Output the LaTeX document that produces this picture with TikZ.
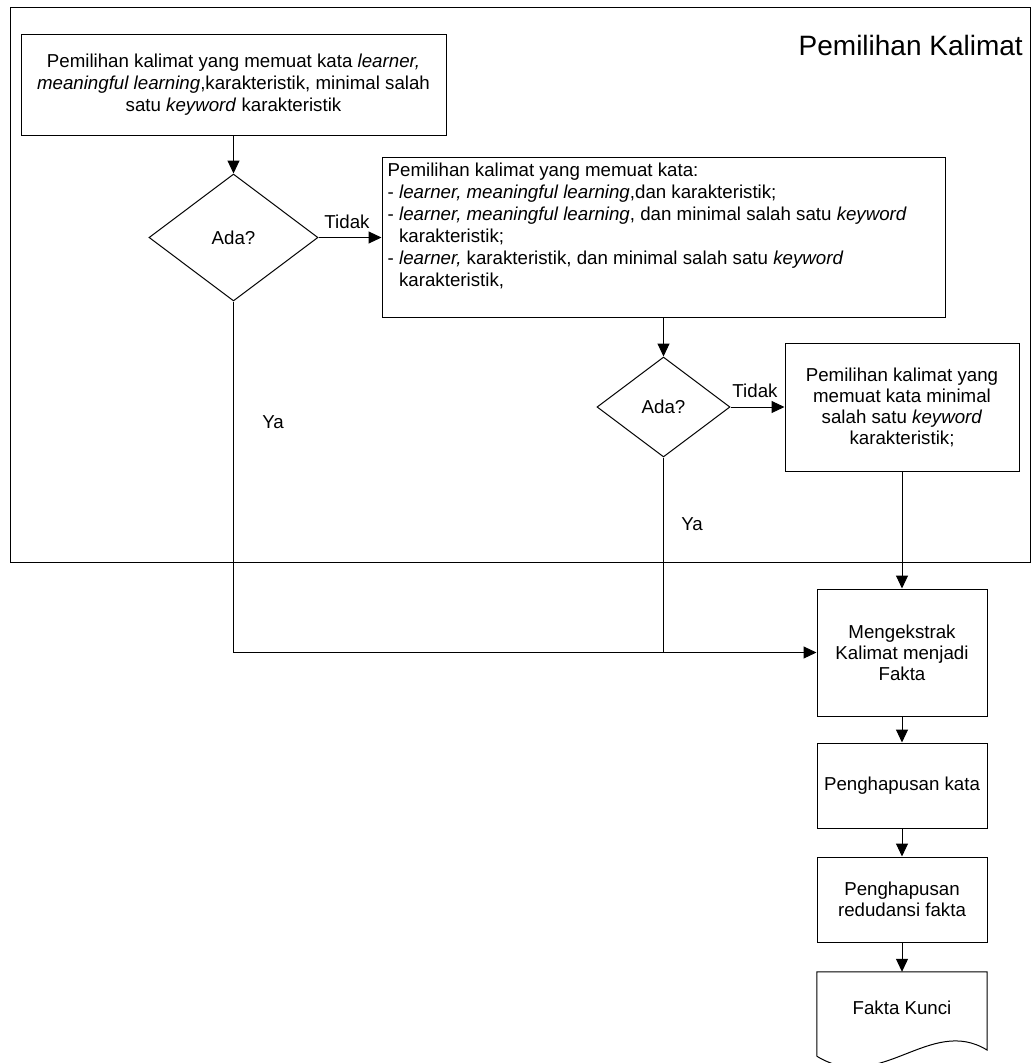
\documentclass[tikz,border=0pt]{standalone}
\usepackage{fontspec}
\setmainfont{Liberation Sans}
\usetikzlibrary{arrows.meta,shapes.geometric}

\begin{document}
\begin{tikzpicture}[x=1pt,y=-1pt,
  txt/.style={font=\fontsize{18.7}{22}\selectfont},
  txtb/.style={font=\fontsize{18.7}{21}\selectfont},
  box/.style={draw=black, line width=1pt, rectangle, inner sep=0pt, align=center},
  decision/.style={draw=black, line width=1pt, diamond, inner sep=0pt, txt},
  flow/.style={draw=black, line width=1pt, -{Triangle[length=13pt,width=12pt]}},
  plain/.style={draw=black, line width=1pt},
  lbl/.style={txt, inner sep=0pt, anchor=base},
]
\useasboundingbox (0,0) rectangle (1033,1063);

% container for the sentence-selection stage
\node[draw=black, line width=1pt, minimum width=1020pt, minimum height=555pt, inner sep=0pt]
  (group) at (520,284.5) {};
\node[font=\fontsize{28}{32}\selectfont, inner sep=0pt, anchor=base east]
  (grouptitle) at (1023,55) {Pemilihan Kalimat};

% process boxes
\node[box, txt, minimum width=425pt, minimum height=101pt] (b1) at (233.5,85)
  {Pemilihan kalimat yang memuat kata \textit{learner,}\\
   \textit{meaningful learning},karakteristik, minimal salah\\
   satu \textit{keyword} karakteristik};

\node[box, minimum width=563pt, minimum height=160pt] (b2) at (663.5,237) {};
\node[txt, inner sep=0pt, align=left, anchor=north west] (b2text)
  at ([xshift=6pt,yshift=-6pt]b2.north west)
  {Pemilihan kalimat yang memuat kata:\\
   - \textit{learner, meaningful learning},dan karakteristik;\\
   - \textit{learner, meaningful learning}, dan minimal salah satu \textit{keyword}\\
   \hphantom{- }karakteristik;\\
   - \textit{learner,} karakteristik, dan minimal salah satu \textit{keyword}\\
   \hphantom{- }karakteristik,};

\node[box, txtb, minimum width=234pt, minimum height=128pt] (b3) at (902,407)
  {Pemilihan kalimat yang\\memuat kata minimal\\salah satu \textit{keyword}\\karakteristik;};

\node[box, txtb, minimum width=170pt, minimum height=127pt] (b4) at (902,652.5)
  {Mengekstrak\\Kalimat menjadi\\Fakta};
\node[box, txtb, minimum width=170pt, minimum height=85pt] (b5) at (902,785.5)
  {Penghapusan kata};
\node[box, txtb, minimum width=170pt, minimum height=85pt] (b6) at (902,899.5)
  {Penghapusan\\redudansi fakta};

% document shape with wavy bottom
\node[inner sep=0pt, minimum width=170pt, minimum height=84pt] (doc) at (902,1014) {};
\draw[plain] (doc.south west) -- (doc.north west) -- (doc.north east)
  -- (987,1050) .. controls (930,1015) and (880,1095) .. (doc.south west);
\node[txt, inner sep=0pt] (doctext) at ([yshift=6pt]doc.center) {Fakta Kunci};

% decisions
\node[decision, minimum width=169pt, minimum height=127pt] (d1) at (233.5,237.5) {Ada?};
\node[decision, minimum width=133pt, minimum height=100pt] (d2) at (663.5,407) {Ada?};

% connectors
\draw[flow] (b1.south) -- (d1.north);
\draw[flow] (d1.east) -- (d1.east -| b2.west);
\draw[flow] (b2.south -| d2.north) -- (d2.north);
\draw[flow] (d2.east) -- (d2.east -| b3.west);
\draw[flow] (b3.south) -- (b4.north);
\draw[flow] (d1.south) |- (b4.west);
\draw[plain] (d2.south) -- (d2.south |- b4.west);
\draw[flow] (b4.south) -- (b5.north);
\draw[flow] (b5.south) -- (b6.north);
\draw[flow] (b6.south) -- (doc.north);

% branch labels
\node[lbl] (no1) at (347,228) {Tidak};
\node[lbl] (no2) at (755,397) {Tidak};
\node[lbl] (yes1) at (273,428) {Ya};
\node[lbl] (yes2) at (692,530) {Ya};
\end{tikzpicture}
\end{document}
